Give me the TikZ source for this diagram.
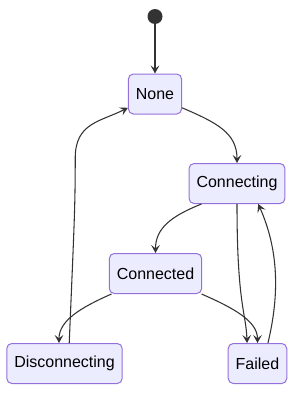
\documentclass[tikz,border=0pt]{standalone}
\usepackage{fontspec}
\setmainfont{Liberation Sans}
\usetikzlibrary{arrows.meta}
\definecolor{StateFill}{RGB}{236,236,255}
\definecolor{StateEdge}{RGB}{147,112,219}
\definecolor{LineGray}{RGB}{51,51,51}

\begin{document}
\begin{tikzpicture}[x=0.75pt,y=-0.75pt,
  state/.style={draw=StateEdge,fill=StateFill,line width=0.75pt,
    rounded corners=3.75pt,minimum height=30pt,inner xsep=5.6pt,
    font=\fontsize{12}{14}\selectfont},
  trans/.style={-{Stealth[length=6pt,width=6.5pt,inset=2.5pt]},LineGray,line width=0.8pt}]
  \useasboundingbox (0,0) rectangle (305,400);
  % states
  \node[circle,fill=LineGray,minimum size=11.25pt,inner sep=0pt] (start) at (155,16.5) {};
  \node[state] (None) at (155,94) {None};
  \node[state] (Connecting) at (237,183.5) {Connecting};
  \node[state] (Connected) at (155.5,273.5) {Connected};
  \node[state] (Disconnecting) at (64.5,363.5) {Disconnecting};
  \node[state] (Failed) at (257.5,363.5) {Failed};
  % transitions
  \draw[trans] (start) -- (None);
  \draw[trans] (None.-27) .. controls +(35,15) and +(0,-30) .. (Connecting.north);
  \draw[trans] (Connecting.-150) .. controls +(-30,12) and +(0,-25) .. (Connected.north);
  \draw[trans] (Connecting.south) .. controls +(0,100) and +(-1,-30) .. (Failed.117);
  \draw[trans] (Failed.63) .. controls +(12,-50) and +(20,45) .. (Connecting.-44);
  \draw[trans] (Connected.-155) .. controls +(-32,14) and +(0,-22) .. (Disconnecting.105);
  \draw[trans] (Connected.-24) .. controls +(32,14) and +(0,-22) .. (Failed.north);
  \draw[trans] (Disconnecting.77) .. controls +(5,-120) and +(0,50) .. ++(6,-185)
    .. controls +(0,-35) and +(-28,14) .. (None.-153);
\end{tikzpicture}
\end{document}
